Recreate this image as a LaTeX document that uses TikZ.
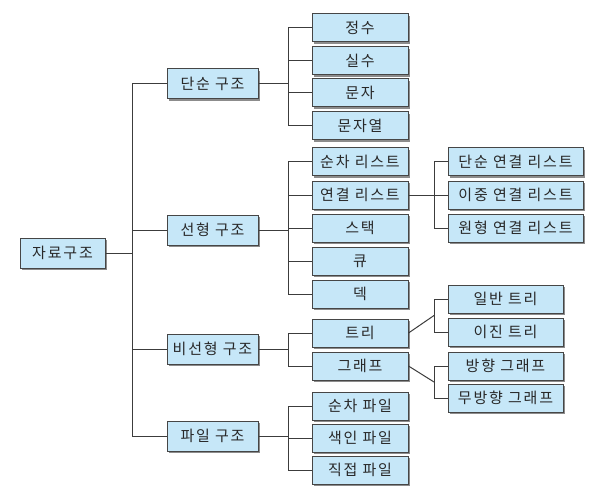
\documentclass[tikz,border=0pt]{standalone}
\usepackage{fontspec}
\setmainfont{Noto Sans CJK KR}[LetterSpace=12]
\usetikzlibrary{shadows}
\definecolor{boxfill}{RGB}{198,231,248}
\definecolor{boxline}{RGB}{70,70,70}
\definecolor{conn}{RGB}{60,60,60}
\definecolor{txt}{RGB}{40,40,40}
\tikzset{
  box/.style={draw=boxline, line width=1pt, fill=boxfill, inner sep=0pt, text=txt,
    minimum height=28pt, font=\fontsize{15}{17}\selectfont,
    drop shadow={shadow xshift=2pt, shadow yshift=-2pt, fill=black!45, opacity=1}},
  lone/.style={box, minimum width=91pt, minimum height=30pt},
  ltwo/.style={box, minimum width=96pt},
  lthree/.style={box, minimum width=135pt},
  lfour/.style={box, minimum width=115pt},
  wire/.style={draw=conn, line width=1pt}
}
\begin{document}
\begin{tikzpicture}[x=1pt,y=-1pt]
\useasboundingbox (0,0) rectangle (615,497);
% root
\node[box, minimum width=85pt, minimum height=30pt] (root) at (62.5,253) {자료구조};
% level 1
\node[lone] (simple) at (212.5,84) {단순 구조};
\node[lone] (linear) at (212.5,230) {선형 구조};
\node[lone] (nonlin) at (212.5,349) {비선형 구조};
\node[lone] (file) at (212.5,436) {파일 구조};
% level 2
\node[ltwo] (int) at (360,28) {정수};
\node[ltwo] (real) at (360,61) {실수};
\node[ltwo] (chr) at (360,93) {문자};
\node[ltwo] (str) at (360,126) {문자열};
\node[ltwo] (seql) at (360,162) {순차 리스트};
\node[ltwo] (link) at (360,195) {연결 리스트};
\node[ltwo] (stack) at (360,228) {스택};
\node[ltwo] (queue) at (360,261) {큐};
\node[ltwo] (deque) at (360,294) {덱};
\node[ltwo] (tree) at (360,333) {트리};
\node[ltwo] (graph) at (360,366) {그래프};
\node[ltwo] (seqf) at (360,406) {순차 파일};
\node[ltwo] (idxf) at (360,438) {색인 파일};
\node[ltwo] (dirf) at (360,470) {직접 파일};
% level 3
\node[lthree] (sll) at (515.5,162) {단순 연결 리스트};
\node[lthree] (dll) at (515.5,195) {이중 연결 리스트};
\node[lthree] (cll) at (515.5,228) {원형 연결 리스트};
\node[lfour] (gtree) at (505.5,299) {일반 트리};
\node[lfour] (btree) at (505.5,332) {이진 트리};
\node[lfour] (dgr) at (505.5,366) {방향 그래프};
\node[lfour] (ugr) at (505.5,398) {무방향 그래프};
% junctions
\coordinate (trunk) at (132,253);
\coordinate (jt) at (434,315.5);
\coordinate (jg) at (434,382);
% connectors
\draw[wire] (root.east) -- (trunk);
\foreach \c in {simple,linear,nonlin,file} \draw[wire] (trunk) |- (\c.west);
\draw[wire] (simple.east) -- ++(30,0) coordinate (js);
\foreach \c in {int,real,chr,str} \draw[wire] (js) |- (\c.west);
\draw[wire] (linear.east) -- ++(30,0) coordinate (jl);
\foreach \c in {seql,link,stack,queue,deque} \draw[wire] (jl) |- (\c.west);
\draw[wire] (nonlin.east) -- ++(30,0) coordinate (jn);
\foreach \c in {tree,graph} \draw[wire] (jn) |- (\c.west);
\draw[wire] (file.east) -- ++(30,0) coordinate (jf);
\foreach \c in {seqf,idxf,dirf} \draw[wire] (jf) |- (\c.west);
\draw[wire] (link.east) -- ++(26,0) coordinate (jk);
\foreach \c in {sll,dll,cll} \draw[wire] (jk) |- (\c.west);
\draw[wire] (tree.east) -- (jt);
\foreach \c in {gtree,btree} \draw[wire] (jt) |- (\c.west);
\draw[wire] (graph.east) -- (jg);
\foreach \c in {dgr,ugr} \draw[wire] (jg) |- (\c.west);
\end{tikzpicture}
\end{document}
